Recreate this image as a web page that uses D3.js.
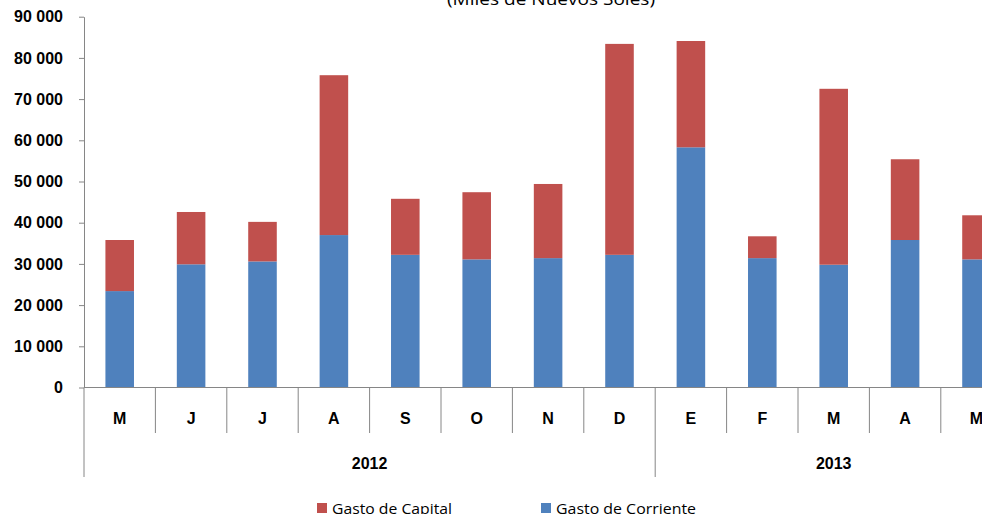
<!DOCTYPE html>
<html>
<head>
<meta charset="utf-8">
<script src="https://cdn.jsdelivr.net/npm/d3@7"></script>
<style>
  body { margin: 0; background: #fff; }
  svg { display: block; }
</style>
</head>
<body>
<div id="viz"></div>
<script>
// datos (miles de nuevos soles)
const months = ["M", "J", "J", "A", "S", "O", "N", "D", "E", "F", "M", "A", "M"];
const years = [
  { label: "2012", from: 0, to: 8 },
  { label: "2013", from: 8, to: 13 }
];
const gastoCorriente = [23400, 29900, 30600, 37000, 32200, 31100, 31400, 32200, 58300, 31400, 29800, 35800, 31100];
const gastoCapital = [12400, 12700, 9600, 38800, 13600, 16300, 18000, 51200, 25800, 5300, 42700, 19600, 10700];
const yTicks = [0, 10000, 20000, 30000, 40000, 50000, 60000, 70000, 80000, 90000];

const width = 982, height = 514;
const BLUE = "#4F81BD", RED = "#C0504D", AXIS = "#868686";

const svg = d3.select("#viz").append("svg")
  .attr("width", width)
  .attr("height", height);

const left = 84, step = 71.4;
const x = d3.scaleBand()
  .domain(d3.range(months.length))
  .range([left, left + step * months.length])
  .paddingInner(0.6)
  .paddingOuter(0.3);

const y = d3.scaleLinear()
  .domain([0, 90000])
  .range([387.5, 16.7]);

const fmt = d3.formatLocale({ decimal: ",", thousands: " ", grouping: [3], currency: ["", ""] }).format(",d");

// eje y
const yAxis = svg.append("g")
  .attr("transform", `translate(${left},0)`)
  .call(d3.axisLeft(y).tickValues(yTicks).tickSize(5).tickSizeOuter(0).tickPadding(16).tickFormat(fmt));
yAxis.select(".domain").attr("stroke", AXIS);
yAxis.selectAll(".tick line").attr("stroke", AXIS);
yAxis.selectAll("text")
  .attr("font-family", "Liberation Sans, Arial, sans-serif")
  .attr("font-weight", "bold")
  .attr("font-size", 16)
  .attr("fill", "#000");

// barras apiladas
const stacked = months.map((m, i) => ({ i, corr: gastoCorriente[i], cap: gastoCapital[i] }));

svg.append("g").selectAll("rect")
  .data(stacked)
  .join("rect")
  .attr("x", d => x(d.i))
  .attr("width", x.bandwidth())
  .attr("y", d => y(d.corr))
  .attr("height", d => y(0) - y(d.corr))
  .attr("fill", BLUE);

svg.append("g").selectAll("rect")
  .data(stacked)
  .join("rect")
  .attr("x", d => x(d.i))
  .attr("width", x.bandwidth())
  .attr("y", d => y(d.corr + d.cap))
  .attr("height", d => y(d.corr) - y(d.corr + d.cap))
  .attr("fill", RED);

// eje x con categorías agrupadas
const base = y(0);
const g = svg.append("g");
g.append("line")
  .attr("x1", left).attr("x2", left + step * months.length)
  .attr("y1", base).attr("y2", base)
  .attr("stroke", AXIS);

const yearBounds = new Set(years.map(d => d.from).concat(years.map(d => d.to)));
d3.range(months.length + 1).forEach(i => {
  const xx = left + step * i;
  g.append("line")
    .attr("x1", xx).attr("x2", xx)
    .attr("y1", base).attr("y2", yearBounds.has(i) ? 477 : 433)
    .attr("stroke", AXIS);
});

g.selectAll("text.month")
  .data(months)
  .join("text")
  .attr("class", "month")
  .attr("x", (d, i) => x(i) + x.bandwidth() / 2)
  .attr("y", 424)
  .attr("text-anchor", "middle")
  .attr("font-family", "Liberation Sans, Arial, sans-serif")
  .attr("font-weight", "bold")
  .attr("font-size", 16)
  .text(d => d);

g.selectAll("text.year")
  .data(years)
  .join("text")
  .attr("class", "year")
  .attr("x", d => left + step * (d.from + d.to) / 2)
  .attr("y", 469)
  .attr("text-anchor", "middle")
  .attr("font-family", "Liberation Sans, Arial, sans-serif")
  .attr("font-weight", "bold")
  .attr("font-size", 16)
  .text(d => d.label);

// título (cortado arriba)
svg.append("text")
  .attr("x", 551)
  .attr("y", 5)
  .attr("text-anchor", "middle")
  .attr("font-family", "Open Sans, sans-serif")
  .attr("font-size", 16)
  .attr("textLength", 208)
  .attr("lengthAdjust", "spacingAndGlyphs")
  .text("(Miles de Nuevos Soles)");

// leyenda
const legend = [
  { name: "Gasto de Capital", color: RED, x: 317, w: 120 },
  { name: "Gasto de Corriente", color: BLUE, x: 541, w: 140 }
];
const lg = svg.append("g").selectAll("g")
  .data(legend)
  .join("g")
  .attr("transform", d => `translate(${d.x},503)`);
lg.append("rect")
  .attr("width", 10).attr("height", 10)
  .attr("fill", d => d.color);
lg.append("text")
  .attr("x", 15)
  .attr("y", 11)
  .attr("font-family", "Open Sans, sans-serif")
  .attr("font-size", 15)
  .attr("textLength", d => d.w)
  .attr("lengthAdjust", "spacingAndGlyphs")
  .text(d => d.name);
</script>
</body>
</html>
